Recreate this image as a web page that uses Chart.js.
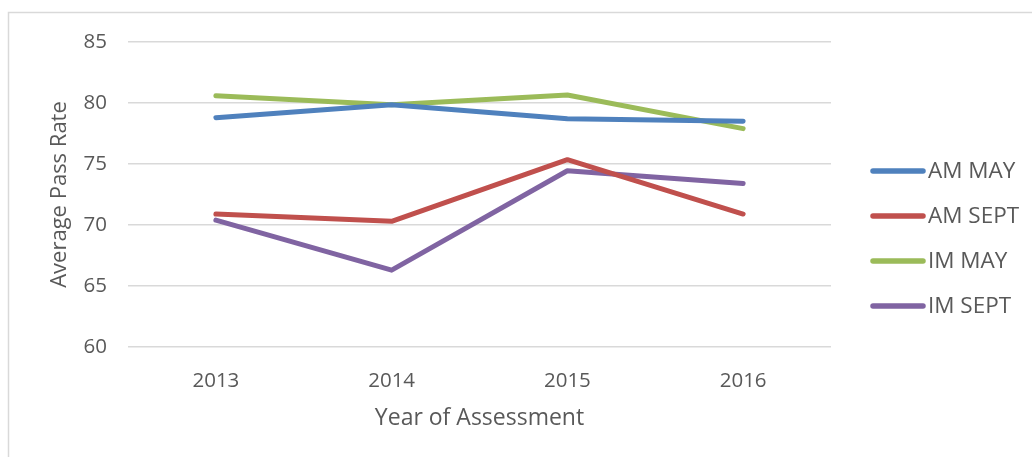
<!DOCTYPE html>
<html>
<head>
<meta charset="utf-8">
<script src="https://cdn.jsdelivr.net/npm/chart.js@4.4.1/dist/chart.umd.min.js"></script>
<style>
  html, body { margin: 0; padding: 0; background: #fff; }
  #wrap { width: 1032px; height: 457px; }
</style>
</head>
<body>
<div id="wrap"><canvas id="chart" width="1032" height="457"></canvas></div>
<script>
const years = ["2013", "2014", "2015", "2016"];
const amMay = [78.8, 79.85, 78.7, 78.5];
const amSept = [70.9, 70.3, 75.35, 70.9];
const imMay = [80.6, 79.85, 80.65, 77.9];
const imSept = [70.4, 66.3, 74.45, 73.4];

const textColor = "#595959";
const fontFamily = "'Open Sans', 'DejaVu Sans', sans-serif";

function series(label, data, color) {
  return {
    label: label,
    data: data,
    borderColor: color,
    backgroundColor: color,
    borderWidth: 5,
    borderCapStyle: "round",
    borderJoinStyle: "round",
    pointRadius: 0,
    tension: 0,
    fill: false
  };
}

// frame around the chart + legend on the right, drawn by hand
const framePlugin = {
  id: "frame",
  beforeDraw(chart) {
    const ctx = chart.ctx;
    ctx.save();
    ctx.fillStyle = "#fff";
    ctx.fillRect(0, 0, chart.width, chart.height);
    ctx.strokeStyle = "#D9D9D9";
    ctx.lineWidth = 1.5;
    ctx.strokeRect(8.5, 12.5, 1100, 600);
    ctx.restore();
  },
  afterDraw(chart) {
    const ctx = chart.ctx;
    ctx.save();
    ctx.font = "22.5px " + fontFamily;
    ctx.textBaseline = "middle";
    ctx.lineCap = "round";
    chart.data.datasets.forEach((ds, i) => {
      const y = 171 + i * 45;
      ctx.strokeStyle = ds.borderColor;
      ctx.lineWidth = 5.5;
      ctx.beginPath();
      ctx.moveTo(873, y);
      ctx.lineTo(923, y);
      ctx.stroke();
      ctx.fillStyle = textColor;
      ctx.fillText(ds.label, 928, y + 1);
    });
    ctx.restore();
  }
};

new Chart(document.getElementById("chart").getContext("2d"), {
  type: "line",
  data: {
    labels: years,
    datasets: [
      series("AM MAY", amMay, "#4F81BD"),
      series("AM SEPT", amSept, "#C0504D"),
      series("IM MAY", imMay, "#9BBB59"),
      series("IM SEPT", imSept, "#8064A2")
    ]
  },
  options: {
    responsive: false,
    animation: false,
    layout: { padding: { top: 42, right: 201, left: 0, bottom: 0 } },
    plugins: {
      legend: { display: false },
      tooltip: { enabled: false }
    },
    scales: {
      x: {
        offset: true,
        grid: { display: false },
        border: { display: false },
        ticks: {
          color: textColor,
          font: { family: fontFamily, size: 20.5 },
          padding: 14
        },
        title: {
          display: true,
          text: "Year of Assessment",
          color: textColor,
          font: { family: fontFamily, size: 23 },
          padding: { top: 0, bottom: 25 }
        },
        afterFit(scale) { scale.height = 110; }
      },
      y: {
        min: 60,
        max: 85,
        ticks: {
          stepSize: 5,
          color: textColor,
          font: { family: fontFamily, size: 20.5 },
          padding: 21
        },
        grid: { color: "#D9D9D9", lineWidth: 1.5, drawTicks: false },
        border: { display: false },
        title: {
          display: true,
          text: "Average Pass Rate",
          color: textColor,
          font: { family: fontFamily, size: 22 },
          padding: { top: 47, bottom: 0 }
        },
        afterFit(scale) { scale.width = 128; }
      }
    }
  },
  plugins: [framePlugin]
});
</script>
</body>
</html>
